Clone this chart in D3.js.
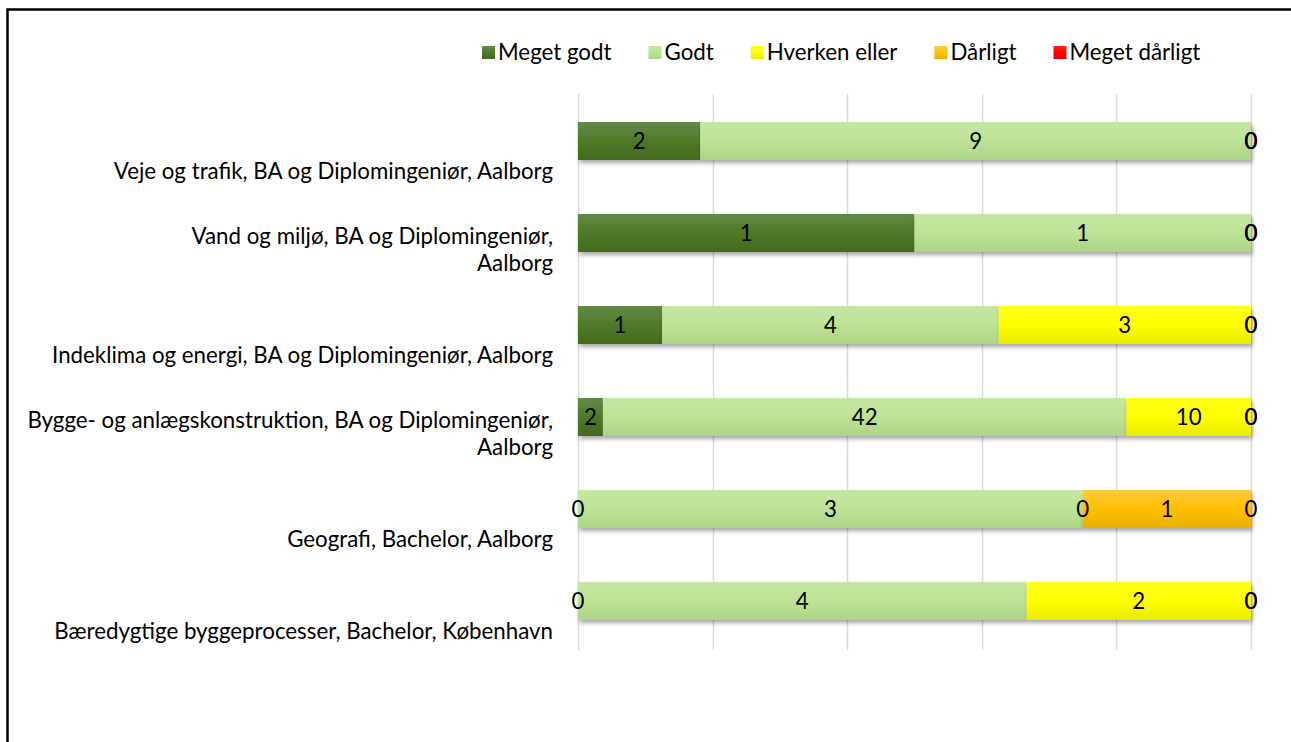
<!DOCTYPE html>
<html>
<head>
<meta charset="utf-8">
<script src="https://cdn.jsdelivr.net/npm/d3@7"></script>
<style>
  body { margin: 0; background: #fff; }
  svg { display: block; }
</style>
</head>
<body>
<script>
var w = 1291;
var h = 742;

// categories, top to bottom ("\n" = line break as in the original)
var categories = [
	"Veje og trafik, BA og Diplomingeniør, Aalborg",
	"Vand og miljø, BA og Diplomingeniør,\nAalborg",
	"Indeklima og energi, BA og Diplomingeniør, Aalborg",
	"Bygge- og anlægskonstruktion, BA og Diplomingeniør,\nAalborg",
	"Geografi, Bachelor, Aalborg",
	"Bæredygtige byggeprocesser, Bachelor, København"
];
var seriesNames = ["Meget godt", "Godt", "Hverken eller", "Dårligt", "Meget dårligt"];
var megetGodt    = [2, 1, 1, 2, 0, 0];
var godt         = [9, 1, 4, 42, 3, 4];
var hverkenEller = [0, 0, 3, 10, 0, 2];
var daarligt     = [0, 0, 0, 0, 1, 0];
var megetDaarligt = [0, 0, 0, 0, 0, 0];
var gridTicks = [0, 0.2, 0.4, 0.6, 0.8, 1];

var seriesValues = [megetGodt, godt, hverkenEller, daarligt, megetDaarligt];
var colors = [
	{top: "#628a47", mid: "#4f7a28", bottom: "#436b1c"},
	{top: "#c6e6a2", mid: "#bde396", bottom: "#acd485"},
	{top: "#ffff1a", mid: "#ffff00", bottom: "#eaea00"},
	{top: "#ffc93c", mid: "#ffc000", bottom: "#e9b000"},
	{top: "#ff2020", mid: "#ff0000", bottom: "#e00000"}
];

var fontFamily = "Lato, 'Open Sans', sans-serif";
var fontSize = "22.3px";

var rows = categories.map(function(c, i) {
	var r = {cat: c};
	seriesNames.forEach(function(s, j) { r[s] = seriesValues[j][i]; });
	return r;
});

var stacked = d3.stack()
	.keys(seriesNames)
	.offset(d3.stackOffsetExpand)(rows);

var svg = d3.select("body").append("svg")
	.attr("width", w)
	.attr("height", h);

var defs = svg.append("defs");
colors.forEach(function(c, i) {
	var g = defs.append("linearGradient")
		.attr("id", "grad" + i)
		.attr("x1", 0).attr("y1", 0).attr("x2", 0).attr("y2", 1);
	g.append("stop").attr("offset", "0%").attr("stop-color", c.top);
	g.append("stop").attr("offset", "50%").attr("stop-color", c.mid);
	g.append("stop").attr("offset", "100%").attr("stop-color", c.bottom);
});
var shadow = defs.append("filter").attr("id", "shadow")
	.attr("x", "-5%").attr("y", "-20%").attr("width", "110%").attr("height", "160%");
shadow.append("feDropShadow")
	.attr("dx", 1.5).attr("dy", 3).attr("stdDeviation", 2.2)
	.attr("flood-color", "#000").attr("flood-opacity", 0.35);

// chart border
svg.append("rect")
	.attr("x", 7.5).attr("y", 9.5)
	.attr("width", w + 20).attr("height", h + 20)
	.attr("fill", "none")
	.attr("stroke", "#000")
	.attr("stroke-width", 2.5);

var x = d3.scaleLinear().domain([0, 1]).range([578, 1251]);
var y = d3.scaleBand().domain(categories).range([96, 648]);
var barH = 38;

// gridlines
svg.append("g").selectAll("line")
	.data(gridTicks)
	.enter()
	.append("line")
	.attr("x1", function(d) { return Math.round(x(d)) + 0.5; })
	.attr("x2", function(d) { return Math.round(x(d)) + 0.5; })
	.attr("y1", 94)
	.attr("y2", 650)
	.attr("stroke", "#d9d9d9")
	.attr("stroke-width", 1.5);

// bars
var layers = svg.append("g").selectAll("g")
	.data(stacked)
	.enter()
	.append("g")
	.attr("fill", function(d, i) { return "url(#grad" + i + ")"; })
	.attr("filter", "url(#shadow)");

layers.selectAll("rect")
	.data(function(d) { return d; })
	.enter()
	.append("rect")
	.attr("x", function(d) { return x(d[0]); })
	.attr("y", function(d) { return y(d.data.cat) + y.bandwidth() / 2 - barH / 2 - 1; })
	.attr("width", function(d) { return x(d[1]) - x(d[0]); })
	.attr("height", barH);

// data labels
var labelG = svg.append("g")
	.attr("font-family", fontFamily)
	.attr("font-size", fontSize)
	.attr("fill", "#000")
	.attr("text-anchor", "middle");
stacked.forEach(function(layer) {
	labelG.selectAll(null)
		.data(layer)
		.enter()
		.append("text")
		.attr("x", function(d) { return x((d[0] + d[1]) / 2); })
		.attr("y", function(d) { return y(d.data.cat) + y.bandwidth() / 2 + 7; })
		.text(function(d) { return d.data[layer.key]; });
});

// category labels
var catG = svg.append("g")
	.attr("font-family", fontFamily)
	.attr("font-size", fontSize)
	.attr("fill", "#000")
	.attr("text-anchor", "end");
categories.forEach(function(c) {
	var lines = c.split("\n");
	var t = catG.append("text");
	var lastY = y(c) + y.bandwidth() / 2 + 37;
	lines.forEach(function(l, i) {
		t.append("tspan")
			.attr("x", 553)
			.attr("y", lastY - (lines.length - 1 - i) * 27)
			.text(l);
	});
});

// legend
var legend = svg.append("g")
	.attr("font-family", fontFamily)
	.attr("font-size", fontSize);
var lx = 482;
seriesNames.forEach(function(s, i) {
	legend.append("rect")
		.attr("x", lx).attr("y", 46)
		.attr("width", 13).attr("height", 13)
		.attr("fill", "url(#grad" + i + ")");
	var t = legend.append("text")
		.attr("x", lx + 16)
		.attr("y", 60)
		.text(s);
	lx += 16 + t.node().getComputedTextLength() + 37;
});
</script>
</body>
</html>
